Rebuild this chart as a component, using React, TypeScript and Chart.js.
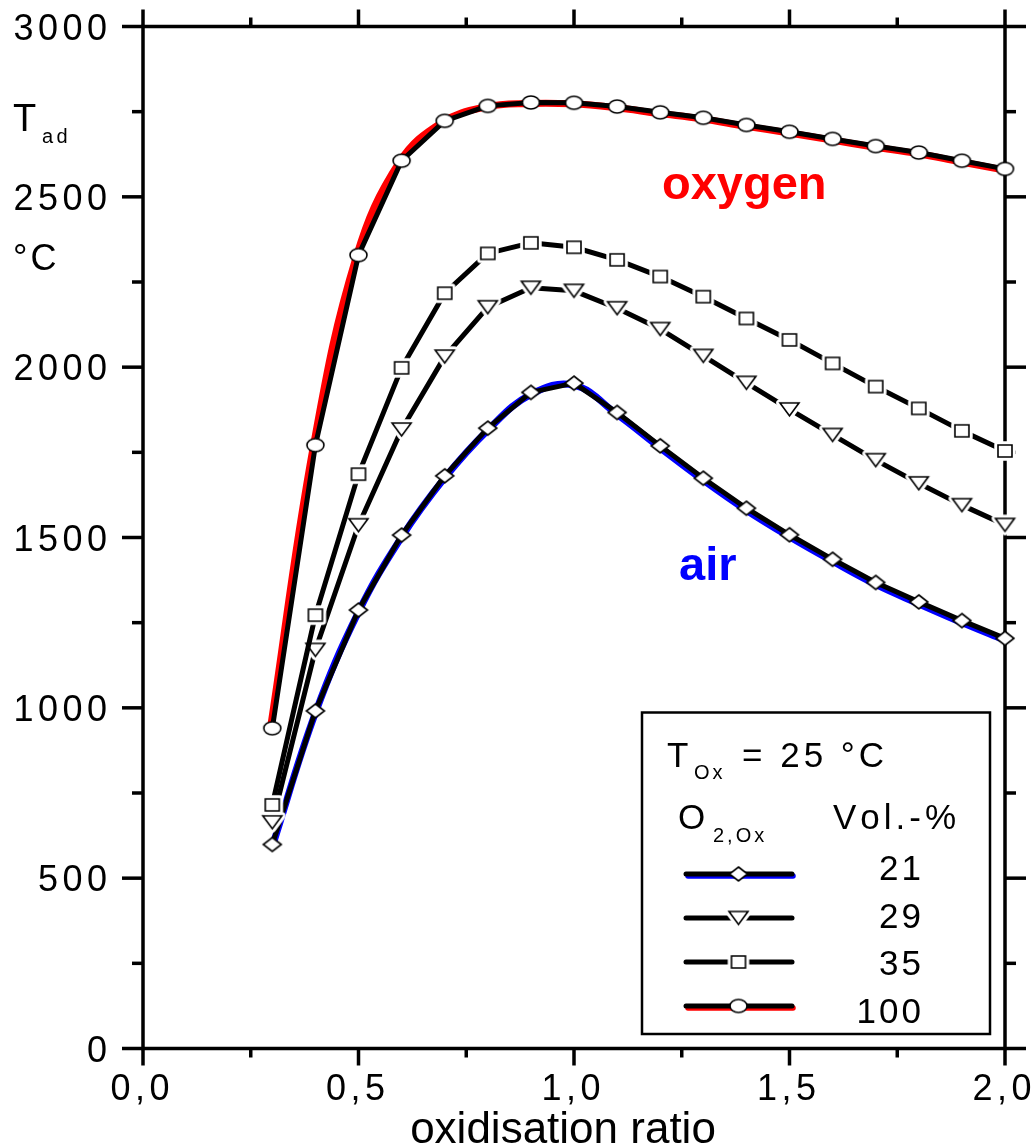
import React, { useEffect, useRef } from 'react';
import { Chart, registerables } from 'chart.js';

Chart.register(...registerables);

// ---------- data ----------
const X_VALUES = [0.3, 0.4, 0.5, 0.6, 0.7, 0.8, 0.9, 1.0, 1.1, 1.2, 1.3, 1.4, 1.5, 1.6, 1.7, 1.8, 1.9, 2.0];
const O2_21 = [599, 991, 1287, 1507, 1681, 1821, 1926, 1953, 1867, 1769, 1674, 1586, 1508, 1436, 1368, 1311, 1256, 1204];
const O2_29 = [664, 1170, 1536, 1817, 2031, 2176, 2233, 2224, 2173, 2112, 2033, 1954, 1876, 1801, 1727, 1659, 1595, 1537];
const O2_35 = [715, 1272, 1686, 1998, 2217, 2334, 2365, 2352, 2315, 2266, 2207, 2143, 2080, 2011, 1943, 1879, 1813, 1754];
const O2_100 = [940, 1771, 2329, 2606, 2723, 2767, 2777, 2776, 2765, 2748, 2732, 2711, 2691, 2670, 2649, 2630, 2606, 2582];

const Y_TICKS = [0, 500, 1000, 1500, 2000, 2500, 3000];
const Y_MINOR = [250, 750, 1250, 1750, 2250, 2750];
const X_TICKS = [0, 0.5, 1.0, 1.5, 2.0];
const X_MINOR = [0.25, 0.75, 1.25, 1.75];
const X_TICK_LABELS = ['0,0', '0,5', '1,0', '1,5', '2,0'];
const LEGEND_LABELS = ['21', '29', '35', '100'];
const X_TITLE = 'oxidisation ratio';

const FONT = "'Liberation Sans', Arial, Helvetica, sans-serif";

type Kind = 'ellipse' | 'diamond' | 'square' | 'triDown';

function shapePath(ctx: CanvasRenderingContext2D, kind: Kind, cx: number, cy: number, w: number, h: number) {
  ctx.beginPath();
  if (kind === 'ellipse') {
    ctx.ellipse(cx, cy, w / 2, h / 2, 0, 0, Math.PI * 2);
  } else if (kind === 'diamond') {
    ctx.moveTo(cx, cy - h / 2);
    ctx.lineTo(cx + w / 2, cy);
    ctx.lineTo(cx, cy + h / 2);
    ctx.lineTo(cx - w / 2, cy);
    ctx.closePath();
  } else if (kind === 'square') {
    ctx.rect(cx - w / 2, cy - h / 2, w, h);
  } else {
    ctx.moveTo(cx - w / 2, cy - h / 2);
    ctx.lineTo(cx + w / 2, cy - h / 2);
    ctx.lineTo(cx, cy + h / 2);
    ctx.closePath();
  }
}

function makeMarker(kind: Kind, w: number, h: number, halo: number): HTMLCanvasElement {
  const pad = halo + 2;
  const c = document.createElement('canvas');
  c.width = Math.round(w + pad * 2);
  c.height = Math.round(h + pad * 2);
  const ctx = c.getContext('2d') as CanvasRenderingContext2D;
  const cx = c.width / 2;
  const cy = c.height / 2;
  if (halo > 0) {
    shapePath(ctx, kind, cx, cy, w, h);
    ctx.strokeStyle = '#ffffff';
    ctx.lineJoin = 'round';
    ctx.lineWidth = halo * 2 + 1.5;
    ctx.stroke();
  }
  shapePath(ctx, kind, cx, cy, w, h);
  ctx.fillStyle = '#ffffff';
  ctx.fill();
  ctx.strokeStyle = '#000000';
  ctx.lineWidth = 1.6;
  ctx.lineJoin = 'miter';
  ctx.stroke();
  return c;
}

function drawSpaced(
  ctx: CanvasRenderingContext2D,
  text: string,
  x: number,
  y: number,
  spacing: number,
  align: 'left' | 'right' | 'center'
) {
  const chars = [...text];
  const widths = chars.map((ch) => ctx.measureText(ch).width);
  const total = widths.reduce((a, b) => a + b, 0) + spacing * (chars.length - 1);
  let cx = align === 'left' ? x : align === 'right' ? x - total : x - total / 2;
  ctx.textAlign = 'left';
  chars.forEach((ch, i) => {
    ctx.fillText(ch, cx, y);
    cx += widths[i] + spacing;
  });
}

function toPoints(values: number[]) {
  return X_VALUES.map((x, i) => ({ x, y: values[i] }));
}

export default function App() {
  const canvasRef = useRef<HTMLCanvasElement | null>(null);

  useEffect(() => {
    const canvas = canvasRef.current;
    if (!canvas) return;

    const mDiamond = makeMarker('diamond', 18, 14, 0);
    const mTri = makeMarker('triDown', 19, 13, 3);
    const mSquare = makeMarker('square', 14, 12, 3);
    const mCircle = makeMarker('ellipse', 17, 13, 0);

    const shiftPlugin = {
      id: 'shiftPlugin',
      beforeDatasetDraw(chart: any, args: any) {
        const ds = chart.data.datasets[args.index];
        if (ds.shift) {
          chart.ctx.save();
          chart.ctx.translate(ds.shift[0], ds.shift[1]);
        }
      },
      afterDatasetDraw(chart: any, args: any) {
        const ds = chart.data.datasets[args.index];
        if (ds.shift) chart.ctx.restore();
      },
    };

    const framePlugin = {
      id: 'framePlugin',
      beforeDatasetsDraw(chart: any) {
        const ctx: CanvasRenderingContext2D = chart.ctx;
        const { left, right, top, bottom } = chart.chartArea;
        const xs = chart.scales.x;
        const ys = chart.scales.y;
        ctx.save();
        ctx.strokeStyle = '#000';
        ctx.lineCap = 'butt';
        ctx.lineWidth = 3.5;
        ctx.strokeRect(left, top, right - left, bottom - top);
        const line = (x1: number, y1: number, x2: number, y2: number) => {
          ctx.beginPath();
          ctx.moveTo(x1, y1);
          ctx.lineTo(x2, y2);
          ctx.stroke();
        };
        ctx.lineWidth = 3.5;
        // y ticks (left + right, outward)
        Y_TICKS.forEach((v) => {
          const py = ys.getPixelForValue(v);
          line(left, py, left - 21, py);
          line(right, py, right + 21, py);
        });
        Y_MINOR.forEach((v) => {
          const py = ys.getPixelForValue(v);
          line(left, py, left - 11, py);
          line(right, py, right + 11, py);
        });
        X_TICKS.forEach((v) => {
          const px = xs.getPixelForValue(v);
          line(px, bottom, px, bottom + 17);
          line(px, top, px, top - 17);
        });
        X_MINOR.forEach((v) => {
          const px = xs.getPixelForValue(v);
          line(px, bottom, px, bottom + 9);
          line(px, top, px, top - 9);
        });

        ctx.fillStyle = '#000';
        ctx.textBaseline = 'alphabetic';
        ctx.font = `36px ${FONT}`;
        Y_TICKS.forEach((v) => {
          const py = ys.getPixelForValue(v);
          drawSpaced(ctx, String(v), 107, py + 13, 4.5, 'right');
        });
        X_TICKS.forEach((v, i) => {
          const px = xs.getPixelForValue(v);
          drawSpaced(ctx, X_TICK_LABELS[i], px - 3, 1100, 4.5, 'center');
        });
        ctx.font = `44px ${FONT}`;
        drawSpaced(ctx, X_TITLE, 563, 1143, 0, 'center');

        // y-axis label
        ctx.font = `38px ${FONT}`;
        drawSpaced(ctx, 'T', 13, 131, 0, 'left');
        ctx.font = `20px ${FONT}`;
        drawSpaced(ctx, 'ad', 42, 143, 3.5, 'left');
        ctx.font = `36px ${FONT}`;
        drawSpaced(ctx, '°C', 13, 270, 3, 'left');
        ctx.restore();
      },
      afterDraw(chart: any) {
        const ctx: CanvasRenderingContext2D = chart.ctx;
        ctx.save();
        // curve annotations
        ctx.textBaseline = 'alphabetic';
        ctx.font = `bold 47px ${FONT}`;
        ctx.fillStyle = '#ff0000';
        drawSpaced(ctx, 'oxygen', 662, 199, 0, 'left');
        ctx.fillStyle = '#0000ff';
        drawSpaced(ctx, 'air', 679, 580, 0, 'left');

        // legend box
        ctx.fillStyle = '#ffffff';
        ctx.fillRect(642, 712.5, 348, 321.5);
        ctx.strokeStyle = '#000';
        ctx.lineWidth = 2.5;
        ctx.strokeRect(642, 712.5, 348, 321.5);

        ctx.fillStyle = '#000';
        ctx.font = `35px ${FONT}`;
        drawSpaced(ctx, 'T', 667, 767, 0, 'left');
        drawSpaced(ctx, '= 25 °C', 742, 767, 4, 'left');
        drawSpaced(ctx, 'O', 678, 829, 0, 'left');
        drawSpaced(ctx, 'Vol.-%', 833, 829, 4, 'left');
        ctx.font = `20px ${FONT}`;
        drawSpaced(ctx, 'Ox', 694, 779, 3, 'left');
        drawSpaced(ctx, '2,Ox', 713, 842, 3, 'left');

        const rowY = [874, 918, 962, 1006];
        const textY = [879.5, 928, 975, 1023];
        const markers = [mDiamond, mTri, mSquare, mCircle];
        const under = ['#0000ff', null, null, '#ff0000'];
        ctx.lineCap = 'round';
        rowY.forEach((y, i) => {
          if (under[i]) {
            ctx.strokeStyle = under[i] as string;
            ctx.lineWidth = 5.5;
            ctx.beginPath();
            ctx.moveTo(688, y + 2);
            ctx.lineTo(793, y + 2);
            ctx.stroke();
          }
          ctx.strokeStyle = '#000';
          ctx.lineWidth = 5;
          ctx.beginPath();
          ctx.moveTo(686, y);
          ctx.lineTo(792, y);
          ctx.stroke();
          const m = markers[i];
          ctx.drawImage(m, 738.5 - m.width / 2, y - m.height / 2);
          ctx.font = `35px ${FONT}`;
          ctx.fillStyle = '#000';
          drawSpaced(ctx, LEGEND_LABELS[i], 921, textY[i], 3, 'right');
        });
        ctx.restore();
      },
    };

    const blackLine = (data: number[], marker: HTMLCanvasElement, order: number) => ({
      data: toPoints(data),
      borderColor: '#000000',
      borderWidth: 5,
      borderCapStyle: 'round',
      borderJoinStyle: 'round',
      tension: 0,
      pointStyle: marker,
      pointRadius: 6,
      pointHoverRadius: 6,
      clip: false,
      order,
    });

    const chart = new Chart(canvas, {
      type: 'line',
      data: {
        datasets: [
          {
            data: toPoints(O2_21),
            borderColor: '#0000ff',
            borderWidth: 7,
            tension: 0.4,
            pointRadius: 0,
            clip: false,
            order: 10,
            shift: [0, 2],
          } as any,
          {
            data: toPoints(O2_100),
            borderColor: '#ff0000',
            borderWidth: 7,
            tension: 0.4,
            pointRadius: 0,
            clip: false,
            order: 10,
            shift: [-2, 1],
          } as any,
          blackLine(O2_21, mDiamond, 5) as any,
          blackLine(O2_29, mTri, 4) as any,
          blackLine(O2_35, mSquare, 3) as any,
          blackLine(O2_100, mCircle, 2) as any,
        ],
      },
      options: {
        responsive: false,
        animation: false,
        events: [],
        layout: { padding: { left: 143, right: 29, top: 26.5, bottom: 99.5 } },
        plugins: { legend: { display: false }, tooltip: { enabled: false } },
        scales: {
          x: { type: 'linear', min: 0, max: 2, display: false },
          y: { type: 'linear', min: 0, max: 3000, display: false },
        },
      },
      plugins: [shiftPlugin, framePlugin],
    });

    return () => {
      chart.destroy();
    };
  }, []);

  return (
    <div style={{ position: 'absolute', left: 0, top: 0, width: 1034, height: 1148, background: '#fff' }}>
      <canvas ref={canvasRef} width={1034} height={1148} style={{ display: 'block', width: 1034, height: 1148 }} />
    </div>
  );
}
